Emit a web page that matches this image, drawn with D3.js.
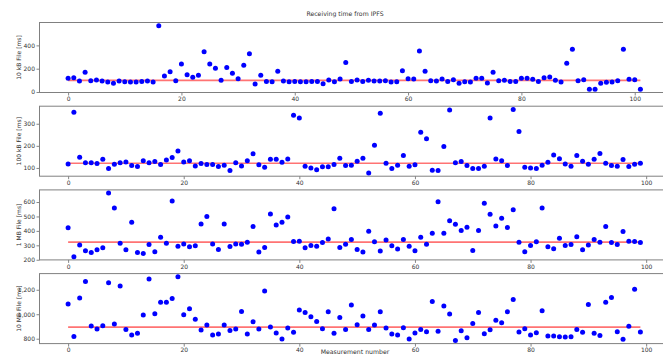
<!DOCTYPE html>
<html>
<head>
<meta charset="utf-8">
<script src="https://cdn.jsdelivr.net/npm/d3@7"></script>
<style>
body{margin:0;background:#fff;}
text{font-family:"DejaVu Sans",sans-serif;}
</style>
</head>
<body>
<script>
var kb10 = [117,123,94,169,97,103,94,86,74,94,
	89,86,86,91,94,86,569,137,174,97,
	240,149,126,143,346,240,203,100,211,160,
	114,229,329,69,143,91,89,177,94,89,
	91,89,89,91,91,71,103,89,111,254,
	91,103,91,100,94,94,97,86,89,183,
	114,111,351,177,97,94,111,91,106,74,
	89,86,117,117,77,169,97,100,91,91,
	117,117,109,91,123,129,100,86,246,366,
	97,106,23,23,74,83,86,97,366,109,
	106,23];
var kb100 = [118,352,148,123,124,120,139,98,117,123,
	127,111,106,133,123,129,115,136,147,177,
	127,133,109,120,115,115,106,112,88,124,
	109,132,164,114,103,139,139,126,141,339,
	326,108,100,92,105,105,115,144,111,112,
	130,144,77,203,348,121,97,112,156,108,
	114,261,232,89,88,197,362,124,129,111,
	98,97,108,326,141,132,111,365,265,103,
	100,98,112,126,159,142,118,108,156,130,
	117,139,165,121,111,108,138,106,117,121];
var mb1 = [421,221,303,262,251,269,283,662,559,315,
	269,460,251,244,306,255,356,315,607,294,
	310,290,297,448,499,310,271,448,292,310,
	308,322,430,253,285,517,441,460,497,326,
	329,283,299,294,320,343,554,285,308,340,
	271,253,398,324,260,336,297,274,340,294,
	262,356,308,384,602,384,471,446,402,425,
	264,402,591,515,434,487,423,547,322,255,
	299,324,559,290,276,349,299,306,359,269,
	303,340,322,430,320,306,395,329,326,320];
var mb10 = [1083,819,1132,1268,903,879,906,1257,920,1230,
	876,830,844,993,1287,1004,1097,1097,1129,1306,
	996,1045,958,871,912,830,838,912,868,879,
	1023,838,939,879,1189,895,846,797,887,852,
	1034,1015,980,941,882,1020,844,974,876,1075,
	914,985,876,912,1020,887,838,830,890,797,
	846,876,857,1105,860,1067,1001,786,865,808,
	925,1015,841,873,950,931,1020,1121,854,882,
	830,849,1029,822,822,816,814,816,876,852,
	1080,844,827,1097,1137,857,795,901,1205,854];
var refLevels = [100,121,322,895];
var yLabels = ["10 kB File [ms]","100 kB File [ms]","1 MB File [ms]","10 MB File [ms]"];
var yTicks = [[0,200,400],[100,200,300],[200,300,400,500,600],[800,1000,1200]];
var xTicks = [0,20,40,60,80,100];
var series = [kb10,kb100,mb1,mb10];

var W = 663, H = 354;
var left = 39.5, right = 669, plotH = 70;
var svg = d3.select("body").append("svg")
	.attr("width",W)
	.attr("height",H);

function padded(ext){
	var m = (ext[1]-ext[0])*0.05;
	return [ext[0]-m, ext[1]+m];
}

series.forEach(function(vals,k){
	var top = 22.5 + k*83.7;
	var data = vals.map(function(v,i){ return {i:i, v:v}; });
	var x = d3.scaleLinear().domain(padded([0,vals.length-1])).range([left,right]);
	var y = d3.scaleLinear().domain(padded(d3.extent(vals))).range([top+plotH,top]);
	var g = svg.append("g");

	//x axis
	var ax = g.append("g")
		.attr("transform","translate(0," + (top+plotH) + ")")
		.call(d3.axisBottom(x).tickValues(xTicks).tickSize(3).tickPadding(1.5));
	//y axis
	var ay = g.append("g")
		.attr("transform","translate(" + left + ",0)")
		.call(d3.axisLeft(y).tickValues(yTicks[k]).tickSize(3).tickPadding(1.5));
	[ax,ay].forEach(function(a){
		a.select(".domain").remove();
		a.selectAll("line").attr("stroke","#666").attr("stroke-width",0.8);
		a.selectAll("text").style("font-size","6px").attr("fill","#333")
			.style("font-family","DejaVu Sans");
	});

	//box
	g.append("rect")
		.attr("x",left)
		.attr("y",top)
		.attr("width",right-left)
		.attr("height",plotH)
		.attr("fill","none")
		.attr("stroke","#808080")
		.attr("stroke-width",1);

	//reference line
	g.append("line")
		.attr("x1",x(0))
		.attr("x2",x(vals.length-1))
		.attr("y1",y(refLevels[k]))
		.attr("y2",y(refLevels[k]))
		.attr("stroke","#ff0000")
		.attr("stroke-opacity",0.55)
		.attr("stroke-width",1.6);

	g.selectAll(".dot")
		.data(data)
		.enter()
		.append("circle")
		.attr("class","dot")
		.attr("cx",function(d){ return x(d.i); })
		.attr("cy",function(d){ return y(d.v); })
		.attr("r",2.5)
		.attr("fill","#0000ff");

	g.append("text")
		.text(yLabels[k])
		.attr("text-anchor","middle")
		.attr("transform","translate(18.5," + (top+plotH/2) + ") rotate(-90)")
		.attr("dy","0.35em")
		.style("font-size","6px")
		.attr("fill","#333");
});

svg.append("text")
	.text("Receiving time from IPFS")
	.attr("x",345)
	.attr("y",16)
	.attr("text-anchor","middle")
	.style("font-size","6.2px")
	.attr("fill","#333");

svg.append("text")
	.text("Measurement number")
	.attr("x",355)
	.attr("y",354)
	.attr("text-anchor","middle")
	.style("font-size","6.2px")
	.attr("fill","#333");
</script>
</body>
</html>
